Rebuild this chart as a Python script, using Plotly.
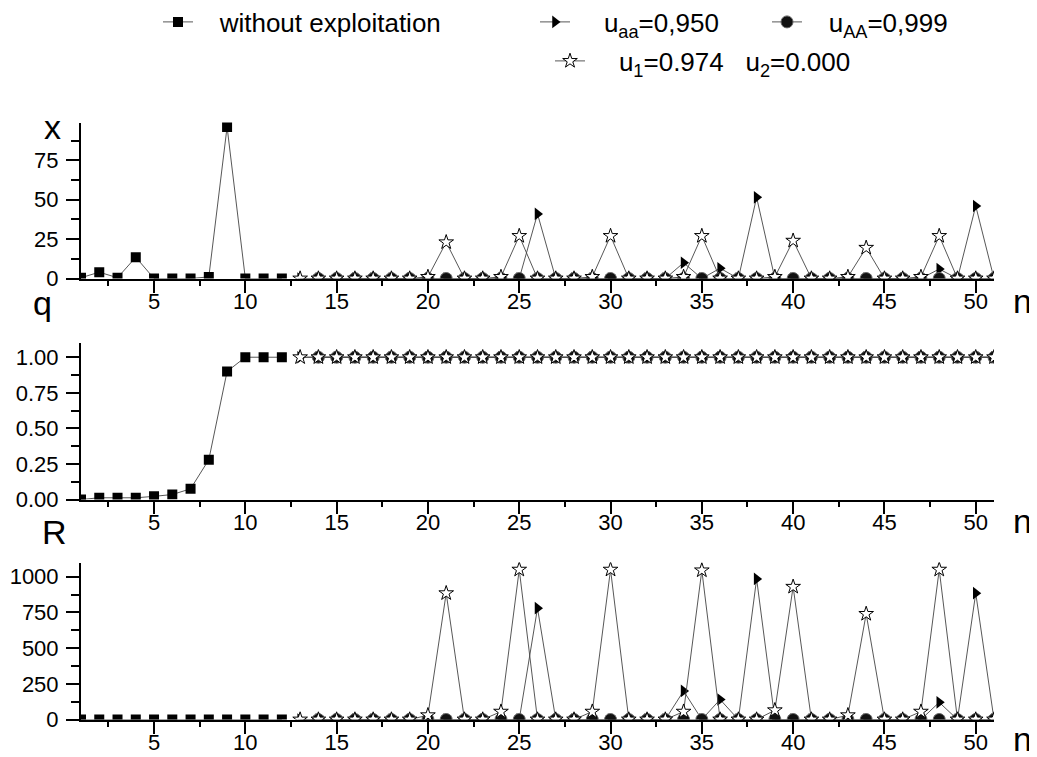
import plotly.graph_objects as go

# ---------------- data ----------------
n_free = [1, 2, 3, 4, 5, 6, 7, 8, 9, 10, 11, 12]
free_x = [0.5, 4.0, 0.5, 13.5, 0, 0, 0, 1.0, 96.2, 0, 0, 0]
free_q = [0.0, 0.012, 0.012, 0.012, 0.022, 0.035, 0.075, 0.28, 0.90, 1.0, 1.0, 1.0]
free_R = [0, 0, 0, 0, 0, 0, 0, 0, 0, 0, 0, 0]

n_exp = [13, 14, 15, 16, 17, 18, 19, 20, 21, 22, 23, 24, 25, 26, 27, 28, 29, 30, 31, 32,
         33, 34, 35, 36, 37, 38, 39, 40, 41, 42, 43, 44, 45, 46, 47, 48, 49, 50, 51]

# u_aa = 0,950 (triangles)
uaa_x = [0, 0, 0, 0, 0, 0, 0, 0, 0, 0, 0, 0, 0, 41, 0, 0, 0, 0, 0, 0,
         0, 10, 0, 6.5, 0, 51.5, 0, 0, 0, 0, 0, 0, 0, 0, 0, 6, 0, 46, 0]
uaa_q = [1.0, 1.0, 1.0, 1.0, 1.0, 1.0, 1.0, 1.0, 1.0, 1.0, 1.0, 1.0, 1.0, 1.0, 1.0, 1.0, 1.0, 1.0, 1.0, 1.0,
         1.0, 1.0, 1.0, 1.0, 1.0, 1.0, 1.0, 1.0, 1.0, 1.0, 1.0, 1.0, 1.0, 1.0, 1.0, 1.0, 1.0, 1.0, 1.0]
uaa_R = [0, 0, 0, 0, 0, 0, 0, 0, 0, 0, 0, 0, 0, 780, 0, 0, 0, 0, 0, 0,
         0, 200, 0, 140, 0, 985, 0, 0, 0, 0, 0, 0, 0, 0, 0, 120, 0, 885, 0]

# u_AA = 0,999 (balls)
n_AA = [14, 15, 16, 17, 18, 19, 20, 21, 22, 23, 24, 25, 26, 27, 28, 29, 30, 31, 32,
        33, 34, 35, 36, 37, 38, 39, 40, 41, 42, 43, 44, 45, 46, 47, 48, 49, 50, 51]
uAA_x = [0, 0, 0, 0, 0, 0, 0, 0, 0, 0, 0, 0, 0, 0, 0, 0, 0, 0, 0,
         0, 0, 0, 0, 0, 0, 0, 0, 0, 0, 0, 0, 0, 0, 0, 0, 0, 0, 0]
uAA_q = [1.0, 1.0, 1.0, 1.0, 1.0, 1.0, 1.0, 1.0, 1.0, 1.0, 1.0, 1.0, 1.0, 1.0, 1.0, 1.0, 1.0, 1.0, 1.0,
         1.0, 1.0, 1.0, 1.0, 1.0, 1.0, 1.0, 1.0, 1.0, 1.0, 1.0, 1.0, 1.0, 1.0, 1.0, 1.0, 1.0, 1.0, 1.0]
uAA_R = [0, 0, 0, 0, 0, 0, 0, 0, 0, 0, 0, 0, 0, 0, 0, 0, 0, 0, 0,
         0, 0, 0, 0, 0, 0, 0, 0, 0, 0, 0, 0, 0, 0, 0, 0, 0, 0, 0]

# u1 = 0.974, u2 = 0.000 (stars)
u12_x = [0, 0, 0, 0, 0, 0, 0, 1, 23, 0, 0, 1, 27, 0, 0, 0, 1, 27, 0, 0,
         0, 1, 27, 0, 0, 0, 1, 24, 0, 0, 1, 19.5, 0, 0, 1, 27, 0, 0, 0]
u12_q = [1.0, 1.0, 1.0, 1.0, 1.0, 1.0, 1.0, 1.0, 1.0, 1.0, 1.0, 1.0, 1.0, 1.0, 1.0, 1.0, 1.0, 1.0, 1.0, 1.0,
         1.0, 1.0, 1.0, 1.0, 1.0, 1.0, 1.0, 1.0, 1.0, 1.0, 1.0, 1.0, 1.0, 1.0, 1.0, 1.0, 1.0, 1.0, 1.0]
u12_R = [0, 0, 0, 0, 0, 0, 0, 30, 885, 0, 0, 55, 1050, 0, 0, 0, 55, 1050, 0, 0,
         0, 55, 1045, 0, 0, 0, 65, 930, 0, 0, 30, 740, 0, 0, 55, 1050, 0, 0, 0]

NB = "\u00a0"
names = [NB * 3 + "without exploitation",
         NB * 4 + "u<sub>aa</sub>=0,950",
         NB * 3 + "u<sub>AA</sub>=0,999",
         NB * 4 + "u<sub>1</sub>=0.974" + NB * 3 + "u<sub>2</sub>=0.000"]

# ---------------- figure ----------------
OFF = 8  # page body margin: reference pixel = figure pixel + OFF
W, H = 1037 - OFF, 757 - OFF
FONT = "Liberation Sans, Arial, sans-serif"
LINE = dict(color="#444444", width=0.9)

fig = go.Figure()

# the star series lives on overlay x axes (same range), which carry the tick labels
series = [
    (n_free, [free_x, free_q, free_R], dict(symbol="square", size=10, color="black"),
     names[0], "legend", ["x", "x2", "x3"]),
    (n_exp, [uaa_x, uaa_q, uaa_R], dict(symbol="triangle-right", size=11, color="black"),
     names[1], "legend2", ["x", "x2", "x3"]),
    (n_AA, [uAA_x, uAA_q, uAA_R], dict(symbol="circle", size=12, color="#111111",
                                       line=dict(color="#666666", width=1)),
     names[2], "legend3", ["x", "x2", "x3"]),
    (n_exp, [u12_x, u12_q, u12_R], dict(symbol="star", size=11, color="white",
                                        line=dict(color="black", width=1)),
     names[3], "legend4", ["x4", "x5", "x6"]),
]

yaxes = ["y", "y2", "y3"]
for xs, ys_list, mk, nm, lg, xas in series:
    for i in range(3):
        fig.add_trace(go.Scatter(
            x=xs, y=ys_list[i], mode="lines+markers", name=nm,
            line=LINE, marker=mk, xaxis=xas[i], yaxis=yaxes[i],
            showlegend=(i == 0), legend=lg, cliponaxis=True))

def ydom(top_px, bot_px):
    return [1 - (bot_px - OFF) / H, 1 - (top_px - OFF) / H]

XRANGE = [1, 51]
# main x axes: line + major/minor ticks
common_x = dict(range=XRANGE, showline=True, linewidth=2, linecolor="black",
                ticks="outside", ticklen=12, tickwidth=2, tickcolor="black",
                tickmode="linear", tick0=0, dtick=5, showgrid=False, zeroline=False,
                automargin=False, showticklabels=False,
                minor=dict(tick0=0, dtick=2.5, ticks="outside", ticklen=5, tickwidth=2,
                           tickcolor="black", showgrid=False))
# overlay x axes: tick labels only, placed close to the axis line
label_x = dict(range=XRANGE, showline=False, ticks="", showgrid=False, zeroline=False,
               tickmode="linear", tick0=0, dtick=5, automargin=False, side="bottom",
               showticklabels=True, ticklabelstandoff=7,
               tickfont=dict(family=FONT, size=22, color="black"))
common_y = dict(showline=True, linewidth=2, linecolor="black",
                ticks="outside", ticklen=13, tickwidth=2, tickcolor="black",
                tickmode="linear", tick0=0, showgrid=False, zeroline=False,
                automargin=False, ticklabelstandoff=3,
                tickfont=dict(family=FONT, size=22, color="black"))
ymin = dict(ticks="outside", ticklen=8, tickwidth=2, tickcolor="black")

fig.update_layout(
    xaxis=dict(common_x, anchor="y"),
    xaxis2=dict(common_x, anchor="y2"),
    xaxis3=dict(common_x, anchor="y3"),
    xaxis4=dict(label_x, overlaying="x", anchor="y"),
    xaxis5=dict(label_x, overlaying="x2", anchor="y2"),
    xaxis6=dict(label_x, overlaying="x3", anchor="y3"),
    yaxis=dict(common_y, anchor="x", domain=ydom(122.5, 278.5), range=[0, 99], dtick=25,
               minor=dict(ymin, tick0=0, dtick=12.5)),
    yaxis2=dict(common_y, anchor="x2", domain=ydom(343, 499.5), range=[0, 1.1], dtick=0.25,
                tickformat=".2f", minor=dict(ymin, tick0=0, dtick=0.125)),
    yaxis3=dict(common_y, anchor="x3", domain=ydom(562.5, 719.5), range=[0, 1100], dtick=250,
                minor=dict(ymin, tick0=0, dtick=125)),
)

L = 81 - OFF
R = W - (994 - OFF)
def px(xp):
    return (xp - OFF - L) / (W - L - R)

def py(yp):
    return 1 - (yp - OFF) / H

legend_style = dict(orientation="h", xref="paper", yref="paper",
                    xanchor="left", yanchor="middle", bgcolor="rgba(0,0,0,0)",
                    font=dict(family=FONT, size=26, color="black"), itemwidth=30)
fig.update_layout(
    legend=dict(legend_style, x=px(158), y=py(22)),
    legend2=dict(legend_style, x=px(535), y=py(22)),
    legend3=dict(legend_style, x=px(767), y=py(22)),
    legend4=dict(legend_style, x=px(550), y=py(61)),
)

ann = []
for txt, xp, yp in [("x", 52, 127), ("q", 42, 303), ("R", 54, 532),
                    ("n", 1022, 301), ("n", 1022, 521), ("n", 1022, 739)]:
    ann.append(dict(text=txt, x=px(xp), y=py(yp), xref="paper", yref="paper",
                    xanchor="center", yanchor="middle", showarrow=False,
                    font=dict(family=FONT, size=34, color="black")))

fig.update_layout(
    annotations=ann,
    width=W, height=H,
    margin=dict(l=L, r=R, t=0, b=0, autoexpand=False),
    paper_bgcolor="white", plot_bgcolor="white",
    font=dict(family=FONT, color="black"),
)

fig.write_html("out.html")
